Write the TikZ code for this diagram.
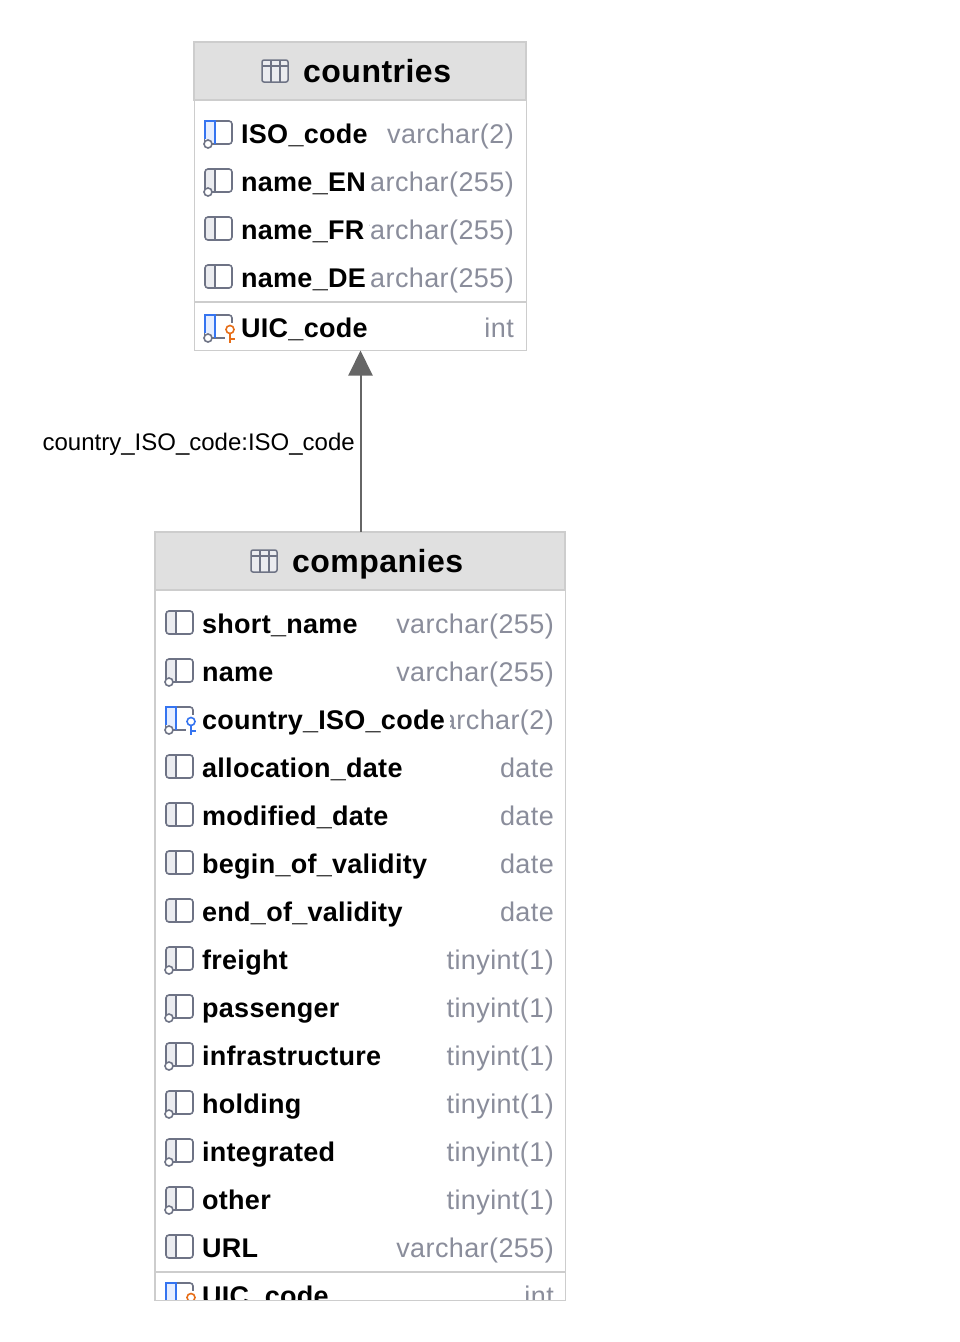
\documentclass[tikz,border=0pt]{standalone}
\usepackage{fontspec}
\setmainfont{Liberation Sans}
\newfontfamily\titlefont[LetterSpace=1.5]{Liberation Sans}
\newfontfamily\namefont[LetterSpace=1.0]{Liberation Sans}
\newfontfamily\typefont[LetterSpace=1.5]{Liberation Sans}
\usetikzlibrary{arrows.meta}
\definecolor{headfill}{HTML}{E0E0E0}
\definecolor{tableline}{HTML}{CDCDCD}
\definecolor{typetext}{HTML}{8A8D9B}
\definecolor{iconline}{HTML}{6E7385}
\definecolor{iconpane}{HTML}{EBECF0}
\definecolor{indexblue}{HTML}{3574F0}
\definecolor{indexpane}{HTML}{E6EEFF}
\definecolor{keyorange}{HTML}{E66D17}
\definecolor{linkgray}{HTML}{666666}
\tikzset{
  pics/plainicon/.style = {code = {
    \fill[iconpane, rounded corners = 2pt] (1,-13) rectangle (11,10);
    \draw[iconline, line width = 1.6pt, rounded corners = 3pt] (1,-13) rectangle (28,10);
    \draw[iconline, line width = 1.6pt] (11,-13) -- (11,10);
  }},
  pics/nullicon/.style = {code = {
    \pic {plainicon};
    \draw[iconline, line width = 1.6pt, fill = white] (4,10) circle (4);
  }},
  pics/indexicon/.style = {code = {
    \pic {plainicon};
    \fill[indexpane] (1,-13) rectangle (11,8);
    \draw[indexblue, line width = 1.6pt] (1,5) -- (1,-13) -- (11,-13) -- (11,10);
    \draw[iconline, line width = 1.6pt, fill = white] (4,10) circle (4);
  }},
  pics/tinybolt/.style = {code = {
    \draw[#1, line width = 1.6pt] (26,1.5) circle (4);
    \draw[#1, line width = 1.6pt] (26,5.5) -- (26,15) (26,11) -- (31,11);
  }},
  pics/pkicon/.style = {code = {
    \pic {indexicon};
    \fill[white] (21,-5) rectangle (32,16);
    \pic {tinybolt = keyorange};
  }},
  pics/fkicon/.style = {code = {
    \pic {indexicon};
    \fill[white] (21,-5) rectangle (32,16);
    \pic {tinybolt = indexblue};
  }}
}
\begin{document}
\begin{tikzpicture}[
  x = 1pt, y = -1pt,
  tablebox/.style = {draw = tableline, line width = 1pt, fill = white, inner sep = 0pt},
  headbox/.style = {draw = tableline, line width = 1.5pt, fill = headfill, inner sep = 0pt, minimum height = 58pt},
  headtitle/.style = {font = \titlefont\bfseries\fontsize{32}{36}\selectfont, inner sep = 0pt, anchor = base west},
  fieldname/.style = {font = \namefont\bfseries\fontsize{27}{32}\selectfont, fill = white, inner xsep = 5pt, inner ysep = 0pt, text height = 21pt, text depth = 7pt, anchor = base west},
  fieldtype/.style = {font = \typefont\fontsize{27}{32}\selectfont, text = typetext, inner sep = 0pt, anchor = base east},
  rowline/.style = {draw = tableline, line width = 1.5pt},
  reflink/.style = {draw = linkgray, line width = 2pt, -{Triangle[length = 25pt, width = 24pt]}}
]
\useasboundingbox (0,0) rectangle (960,1342);

% countries
\node[tablebox, minimum width = 332pt, minimum height = 308pt] (countries) at (360,196) {};
\node[headbox, minimum width = 332pt] (countrieshead) at (360,71) {};
\draw[iconline, line width = 1.5pt, fill = iconpane, rounded corners = 2pt] (262,60) rectangle (288,82);
\draw[iconline, line width = 1.2pt] (262,66) -- (288,66) (271,60) -- (271,82) (280,60) -- (280,82);
\node[headtitle] (countriestitle) at (303,82) {countries};
\begin{scope}
  \clip (194,100) rectangle (526,350);
  \foreach \rowy/\rowname/\rowtype/\rowicon [count = \i] in {
    134/ISO\_code/varchar(2)/indexicon,
    182/name\_EN/varchar(255)/nullicon,
    230/name\_FR/varchar(255)/plainicon,
    278/name\_DE/varchar(255)/plainicon,
    328/UIC\_code/int/pkicon}
  {
    \node[fieldtype] (countriestype\i) at (514,\rowy+9) {\rowtype};
    \node[fieldname] (countriesname\i) at (236,\rowy+9) {\rowname};
    \pic at (204,\rowy) {\rowicon};
  }
\end{scope}
\draw[rowline] (countries.west |- 0,302) -- (countries.east |- 0,302);

% companies
\node[tablebox, minimum width = 410pt, minimum height = 768pt] (companies) at (360,916) {};
\node[headbox, minimum width = 410pt] (companieshead) at (360,561) {};
\draw[iconline, line width = 1.5pt, fill = iconpane, rounded corners = 2pt] (251,550) rectangle (277,572);
\draw[iconline, line width = 1.2pt] (251,556) -- (277,556) (260,550) -- (260,572) (269,550) -- (269,572);
\node[headtitle] (companiestitle) at (292,572) {companies};
\begin{scope}
  \clip (155,590) rectangle (565,1300);
  \foreach \rowy/\rowname/\rowtype/\rowicon [count = \i] in {
    624/short\_name/varchar(255)/plainicon,
    672/name/varchar(255)/nullicon,
    720/country\_ISO\_code/varchar(2)/fkicon,
    768/allocation\_date/date/plainicon,
    816/modified\_date/date/plainicon,
    864/begin\_of\_validity/date/plainicon,
    912/end\_of\_validity/date/plainicon,
    960/freight/tinyint(1)/nullicon,
    1008/passenger/tinyint(1)/nullicon,
    1056/infrastructure/tinyint(1)/nullicon,
    1104/holding/tinyint(1)/nullicon,
    1152/integrated/tinyint(1)/nullicon,
    1200/other/tinyint(1)/nullicon,
    1248/URL/varchar(255)/plainicon,
    1296/UIC\_code/int/pkicon}
  {
    \node[fieldtype] (companiestype\i) at (554,\rowy+9) {\rowtype};
    \node[fieldname] (companiesname\i) at (197,\rowy+9) {\rowname};
    \pic at (165,\rowy) {\rowicon};
  }
\end{scope}
\draw[rowline] (companies.west |- 0,1272) -- (companies.east |- 0,1272);
\draw[tableline, line width = 1pt] (companies.north west |- 0,590) -- (companies.south west) -- (companies.south east) -- (companies.north east |- 0,590);

% link
\draw[reflink, transform canvas = {xshift = 0.5pt}] (companies.north) -- (countries.south);
\node[font = \fontsize{24}{30}\selectfont, inner sep = 0pt, anchor = base east] (linklabel) at (355,450) {country\_ISO\_code:ISO\_code};
\end{tikzpicture}
\end{document}
